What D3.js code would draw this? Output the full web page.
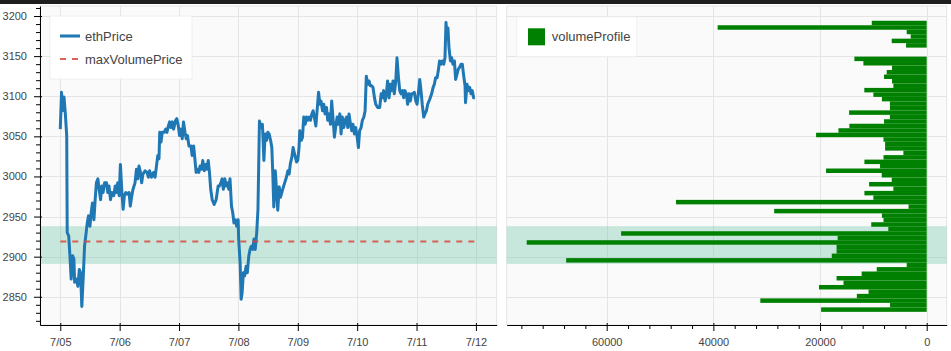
<!DOCTYPE html>
<meta charset="utf-8">
<style>
body { margin: 0; background: #fff; }
svg { display: block; }
.tick text { font-family: "Liberation Sans", Arial, sans-serif; font-size: 11px; fill: #444; }
.legend-name { font-family: "Liberation Sans", Arial, sans-serif; font-size: 13px; fill: #444; }
.grid line { stroke: #e5e5e5; stroke-width: 1px; }
</style>
<body>
<script src="https://d3js.org/d3.v7.min.js"></script>
<script>
// hours after 7/05 00:00
var priceHours = [0, 0.5, 0.9, 1.5, 2.0, 2.6, 2.8, 3.4, 3.9, 4.4, 5.0, 5.5, 5.8, 6.6, 7.1, 7.7, 8.2, 8.7, 9.3, 9.8,
  10.3, 10.9, 11.4, 12.0, 12.5, 13.0, 13.6, 14.1, 14.6, 15.2, 15.7, 16.3, 16.8, 17.3, 17.9, 18.7, 19.2, 19.7, 20.3, 20.8,
  21.6, 22.2, 22.7, 23.2, 23.8, 24.3, 24.9, 25.4, 25.9, 26.5, 27.0, 27.8, 28.3, 28.9, 29.4, 30.2, 30.8, 31.3, 31.8, 32.4,
  32.9, 33.4, 34.3, 35.1, 35.6, 36.1, 36.9, 37.7, 38.3, 38.8, 39.4, 39.9, 40.2, 40.7, 41.2, 42.0, 42.6, 43.1, 43.7, 44.2,
  44.7, 45.3, 45.8, 46.6, 47.1, 47.7, 48.2, 48.8, 49.3, 49.8, 50.4, 50.9, 51.4, 52.0, 52.8, 53.3, 53.9, 54.4, 54.9, 55.5,
  56.0, 56.5, 57.1, 57.6, 58.2, 58.7, 59.2, 59.8, 60.3, 60.8, 61.4, 62.2, 63.0, 63.8, 64.3, 64.9, 65.4, 65.9, 66.5, 67.0,
  67.6, 68.1, 68.6, 69.2, 69.7, 70.2, 70.8, 71.3, 71.9, 72.1, 72.7, 73.1, 73.5, 74.0, 74.5, 75.1, 75.6, 76.2, 76.7, 77.2,
  77.8, 78.3, 78.8, 79.4, 79.9,
  80.5, 81.2, 81.7, 82.3, 82.8, 83.4, 83.9, 84.4, 85.0, 85.5, 85.9, 86.3, 86.9, 87.4, 87.9, 88.5, 89.0, 89.8, 90.6, 91.4,
  92.0, 92.5, 93.0, 93.6, 94.1, 94.7, 95.5, 96.0, 96.5, 96.8, 97.4, 97.9, 98.4, 99.0, 99.5, 100.0, 100.6, 101.1, 101.7, 102.2,
  102.7, 103.3, 103.8, 104.4, 104.9, 105.4, 106.0, 106.5, 107.0, 107.6, 108.1, 108.7, 109.2, 109.7, 110.3, 110.8, 111.3, 111.9, 112.4, 113.0,
  113.5, 114.0, 114.6, 115.1, 115.7, 116.2, 116.7, 117.3, 117.8, 118.3, 118.9, 119.4, 120.0, 120.5, 121.0, 121.6, 122.1, 122.7, 123.2, 123.7,
  124.3, 124.8, 125.3, 125.9, 126.4, 127.0, 127.5, 128.3, 129.1, 129.7, 130.2, 130.7, 131.3, 131.8, 132.3, 132.9, 133.4, 134.0, 134.5, 135.0,
  135.6, 136.1, 136.7, 137.2, 137.7, 138.3, 138.8, 139.3, 139.9, 140.4, 141.0, 141.5, 142.0, 142.6, 143.1, 143.7, 144.2, 144.7, 145.3, 145.8,
  146.3, 146.9, 147.4, 148.0, 148.5, 149.3, 150.1, 150.7, 151.2, 151.7, 152.3, 152.8, 153.3, 153.9, 154.4, 155.0, 155.5, 155.9, 156.3, 156.7,
  157.1, 157.7, 158.2, 158.7, 159.3, 159.8, 160.3, 160.9, 161.4, 162.0, 162.5, 163.0, 163.6, 163.8, 164.4, 164.9, 165.5, 166.0, 166.5, 167.1,
  167.6];
var priceValues = [3059, 3105, 3082, 3099, 3080, 3051, 2930, 2926, 2901, 2872, 2901, 2897, 2868, 2872, 2863, 2884, 2880, 2838, 2876, 2913,
  2926, 2942, 2951, 2938, 2955, 2967, 2946, 2971, 2992, 2997, 2984, 2971, 2988, 2980, 2992, 2992, 2980, 2988, 2971, 2980,
  2976, 2988, 2980, 2992, 2976, 3015, 2980, 2959, 2976, 2980, 2978, 2980, 2963, 2976, 2984, 2992, 3009, 2997, 3013, 3005,
  2992, 3003, 3007, 3005, 2999, 3007, 2999, 3005, 2999, 3011, 3026, 3022, 3055, 3043, 3055, 3055, 3059, 3055, 3063, 3068,
  3061, 3068, 3059, 3070, 3072, 3063, 3051, 3059, 3047, 3068, 3055, 3047, 3051, 3038, 3038, 3026, 3038, 3022, 3005, 3009,
  3005, 3013, 3009, 3020, 3007, 3015, 3009, 3020, 3005, 2984, 2971, 2965, 2971, 2988, 2988, 2992, 2997, 2984, 2997, 2988,
  2992, 2984, 2997, 2963, 2955, 2942, 2946, 2938, 2946, 2922, 2892, 2847, 2855, 2880, 2876, 2888, 2880, 2901, 2909, 2913,
  2909, 2922, 2909, 2930, 2959,
  3069, 3061, 3065, 3020, 3053, 3045, 3055, 3053, 3045, 3036, 3003, 2962, 3007, 2983, 2958, 2987, 2974, 2983, 2991, 2999,
  3007, 3003, 3016, 3024, 3036, 3028, 3018, 3020, 3036, 3057, 3045, 3049, 3074, 3065, 3074, 3070, 3074, 3070, 3078, 3082,
  3074, 3063, 3082, 3105, 3090, 3094, 3082, 3090, 3078, 3086, 3070, 3078, 3065, 3094, 3070, 3049, 3061, 3074, 3065, 3078,
  3053, 3074, 3061, 3070, 3074, 3061, 3078, 3065, 3057, 3065, 3053, 3061, 3049, 3036, 3057, 3061, 3070, 3074, 3082, 3125,
  3115, 3119, 3113, 3113, 3111, 3098, 3090, 3086, 3086, 3103, 3098, 3107, 3094, 3103, 3119, 3098, 3115, 3107, 3119, 3103,
  3119, 3148, 3123, 3107, 3103, 3107, 3098, 3107, 3103, 3090, 3103, 3094, 3103, 3103, 3105, 3094, 3090, 3103, 3121, 3107,
  3090, 3074, 3078, 3082, 3090, 3096, 3103, 3111, 3115, 3123, 3123, 3132, 3144, 3140, 3144, 3140, 3148, 3192, 3177, 3185,
  3161, 3144, 3148, 3140, 3144, 3121, 3127, 3134, 3136, 3140, 3140, 3127, 3113, 3092, 3115, 3107, 3111, 3103, 3107, 3098,
  3098];

// volume profile bins (price level centre) and volume
var volumeLevels = [3191.3, 3185.7, 3180.1, 3174.5, 3169.0, 3163.4, 3157.8, 3152.2, 3146.6, 3141.1,
  3135.5, 3129.9, 3124.3, 3118.7, 3113.1, 3107.6, 3102.0, 3096.4, 3090.8, 3085.2,
  3079.6, 3074.1, 3068.5, 3062.9, 3057.3, 3051.7, 3046.1, 3040.6, 3035.0, 3029.4,
  3023.8, 3018.2, 3012.7, 3007.1, 3001.5, 2995.9, 2990.3, 2984.7, 2979.2, 2973.6,
  2968.0, 2962.4, 2956.8, 2951.2, 2945.7, 2940.1, 2934.5, 2928.9, 2923.3, 2917.7,
  2912.2, 2906.6, 2901.0, 2895.4, 2889.8, 2884.2, 2878.7, 2873.1, 2867.5, 2861.9,
  2856.3, 2850.8, 2845.2, 2839.6, 2834.0];
var volumeValues = [10300, 39200, 3750, 3000, 6560, 3870, 0, 0, 13560, 11870,
  6500, 7500, 8000, 6500, 6250, 11700, 10000, 8400, 6900, 6900,
  14550, 6900, 8000, 14500, 16550, 20740, 8100, 7800, 7800, 4370,
  8100, 11680, 8750, 18870, 8430, 6560, 10800, 6250, 11680, 10000,
  47000, 3400, 28600, 8400, 8100, 10400, 7200, 57300, 16700, 75000,
  16900, 16900, 17800, 67600, 3750, 9370, 12200, 16900, 15600, 20200,
  10900, 13100, 31200, 6870, 19800];

var maxVolumePrice = 2919;
var valueArea = [2891, 2938];
var dayLabels = ["7/05", "7/06", "7/07", "7/08", "7/09", "7/10", "7/11", "7/12"];
var priceTicks = [2850, 2900, 2950, 3000, 3050, 3100, 3150, 3200];
var volumeTicks = [0, 20000, 40000, 60000];

var W = 951, H = 351;
var L = {x0: 40, x1: 496.7, y0: 6, y1: 325};
var R = {x0: 506.7, x1: 946.7, y0: 6, y1: 325};

var t0 = new Date(2024, 6, 5);
function hourDate(h) { return new Date(t0.getTime() + h * 3600e3); }

var x = d3.scaleTime().domain([hourDate(-8.2), hourDate(176.4)]).range([L.x0, L.x1]);
var y = d3.scaleLinear().domain([2814.8, 3212.5]).range([L.y1, L.y0]);
var xv = d3.scaleLinear().domain([78750, -3750]).range([R.x0, R.x1]);

var dayTicks = dayLabels.map(function(d, i) { return hourDate(24 * i); });
var priceMinor = d3.range(2820, 3211, 10).filter(function(v) { return v % 50 != 0; });
var volumeMinor = d3.range(4000, 78000, 4000).filter(function(v) { return v % 20000 != 0; });

var svg = d3.select("body").append("svg").attr("width", W).attr("height", H);

svg.append("rect").attr("width", W).attr("height", 4).attr("fill", "#1e1e1e");

// plot frames
[L, R].forEach(function(p) {
  svg.append("rect")
    .attr("x", p.x0).attr("y", p.y0)
    .attr("width", p.x1 - p.x0).attr("height", p.y1 - p.y0)
    .attr("fill", "#fafafa").attr("stroke", "#e5e5e5");
});

var defs = svg.append("defs");
defs.append("clipPath").attr("id", "clipL").append("rect")
  .attr("x", L.x0).attr("y", L.y0).attr("width", L.x1 - L.x0).attr("height", L.y1 - L.y0);
defs.append("clipPath").attr("id", "clipR").append("rect")
  .attr("x", R.x0).attr("y", R.y0).attr("width", R.x1 - R.x0).attr("height", R.y1 - R.y0);

// grid
var gl = svg.append("g").attr("class", "grid");
gl.selectAll(".vx").data(dayTicks).enter().append("line")
  .attr("x1", function(d) { return Math.round(x(d)) + 0.5; })
  .attr("x2", function(d) { return Math.round(x(d)) + 0.5; })
  .attr("y1", L.y0).attr("y2", L.y1);
gl.selectAll(".hy").data(priceTicks).enter().append("line")
  .attr("x1", L.x0).attr("x2", L.x1)
  .attr("y1", function(d) { return Math.round(y(d)) + 0.5; })
  .attr("y2", function(d) { return Math.round(y(d)) + 0.5; });
gl.selectAll(".vr").data(volumeTicks).enter().append("line")
  .attr("x1", function(d) { return Math.round(xv(d)) + 0.5; })
  .attr("x2", function(d) { return Math.round(xv(d)) + 0.5; })
  .attr("y1", R.y0).attr("y2", R.y1);
gl.selectAll(".hr").data(priceTicks).enter().append("line")
  .attr("x1", R.x0).attr("x2", R.x1)
  .attr("y1", function(d) { return Math.round(y(d)) + 0.5; })
  .attr("y2", function(d) { return Math.round(y(d)) + 0.5; });

// value area band on both panels
[L, R].forEach(function(p) {
  svg.append("rect")
    .attr("x", p.x0).attr("width", p.x1 - p.x0)
    .attr("y", y(valueArea[1])).attr("height", y(valueArea[0]) - y(valueArea[1]))
    .attr("fill", "#66c2a5").attr("fill-opacity", 0.35);
});

// price line
var line = d3.line()
  .x(function(d) { return x(hourDate(d[0])); })
  .y(function(d) { return y(d[1]); });
svg.append("g").attr("clip-path", "url(#clipL)")
  .append("path")
  .datum(d3.zip(priceHours, priceValues))
  .attr("d", line)
  .attr("fill", "none")
  .attr("stroke", "#1f77b4")
  .attr("stroke-width", 3)
  .attr("stroke-linejoin", "round");

// max volume price
svg.append("line")
  .attr("x1", x(hourDate(priceHours[0]))).attr("x2", x(hourDate(168)))
  .attr("y1", y(maxVolumePrice)).attr("y2", y(maxVolumePrice))
  .attr("stroke", "#d9473b").attr("stroke-opacity", 0.85)
  .attr("stroke-width", 2).attr("stroke-dasharray", "6,6");

// volume profile bars
var bw = volumeLevels[0] - volumeLevels[1];
svg.append("g").attr("clip-path", "url(#clipR)")
  .selectAll("rect").data(d3.zip(volumeLevels, volumeValues)).enter().append("rect")
  .attr("x", function(d) { return xv(d[1]); })
  .attr("width", function(d) { return xv(0) - xv(d[1]); })
  .attr("y", function(d) { return y(d[0] + bw / 2); })
  .attr("height", function(d) { return y(d[0] - bw / 2) - y(d[0] + bw / 2); })
  .attr("fill", "green");

// axes
function strip(g) { g.select(".domain").remove(); }

var ay = svg.append("g").attr("transform", "translate(" + L.x0 + ",0)").style("color", "#000");
ay.call(d3.axisLeft(y).tickValues(priceTicks).tickSize(6).tickSizeOuter(0).tickPadding(7)
  .tickFormat(d3.format("d")));
ay.append("g").call(d3.axisRight(y).tickValues(priceTicks).tickSize(2).tickFormat("")).call(strip);
ay.append("g").call(d3.axisLeft(y).tickValues(priceMinor).tickSize(4).tickFormat("")).call(strip);

var ax = svg.append("g").attr("transform", "translate(0," + L.y1 + ")").style("color", "#000");
ax.call(d3.axisBottom(x).tickValues(dayTicks).tickSize(6).tickSizeOuter(0).tickPadding(7)
  .tickFormat(function(d, i) { return dayLabels[i]; }));
ax.append("g").call(d3.axisTop(x).tickValues(dayTicks).tickSize(2).tickFormat("")).call(strip);

var av = svg.append("g").attr("transform", "translate(0," + R.y1 + ")").style("color", "#000");
av.call(d3.axisBottom(xv).tickValues(volumeTicks).tickSize(6).tickSizeOuter(0).tickPadding(7)
  .tickFormat(d3.format("d")));
av.append("g").call(d3.axisTop(xv).tickValues(volumeTicks).tickSize(2).tickFormat("")).call(strip);
av.append("g").call(d3.axisBottom(xv).tickValues(volumeMinor).tickSize(4).tickFormat("")).call(strip);

// legends
var lg = svg.append("g");
lg.append("rect").attr("x", 50).attr("y", 16).attr("width", 142).attr("height", 63)
  .attr("fill", "#fff").attr("fill-opacity", 0.95).attr("stroke", "#e5e5e5").attr("stroke-opacity", 0.5);
lg.append("line").attr("x1", 60).attr("x2", 80).attr("y1", 36).attr("y2", 36)
  .attr("stroke", "#1f77b4").attr("stroke-width", 3);
lg.append("text").attr("class", "legend-name").attr("x", 85).attr("y", 36).attr("dy", "0.35em").text("ethPrice");
lg.append("line").attr("x1", 60).attr("x2", 80).attr("y1", 59).attr("y2", 59)
  .attr("stroke", "#d9473b").attr("stroke-opacity", 0.85).attr("stroke-width", 2).attr("stroke-dasharray", "6,6");
lg.append("text").attr("class", "legend-name").attr("x", 85).attr("y", 59).attr("dy", "0.35em").text("maxVolumePrice");

var rg = svg.append("g");
rg.append("rect").attr("x", 516.7).attr("y", 16.7).attr("width", 120).attr("height", 40)
  .attr("fill", "#fff").attr("fill-opacity", 0.95).attr("stroke", "#e5e5e5").attr("stroke-opacity", 0.5);
rg.append("rect").attr("x", 528).attr("y", 28.3).attr("width", 17).attr("height", 17).attr("fill", "green");
rg.append("text").attr("class", "legend-name").attr("x", 551.7).attr("y", 36.7).attr("dy", "0.35em").text("volumeProfile");
</script>
</body>
